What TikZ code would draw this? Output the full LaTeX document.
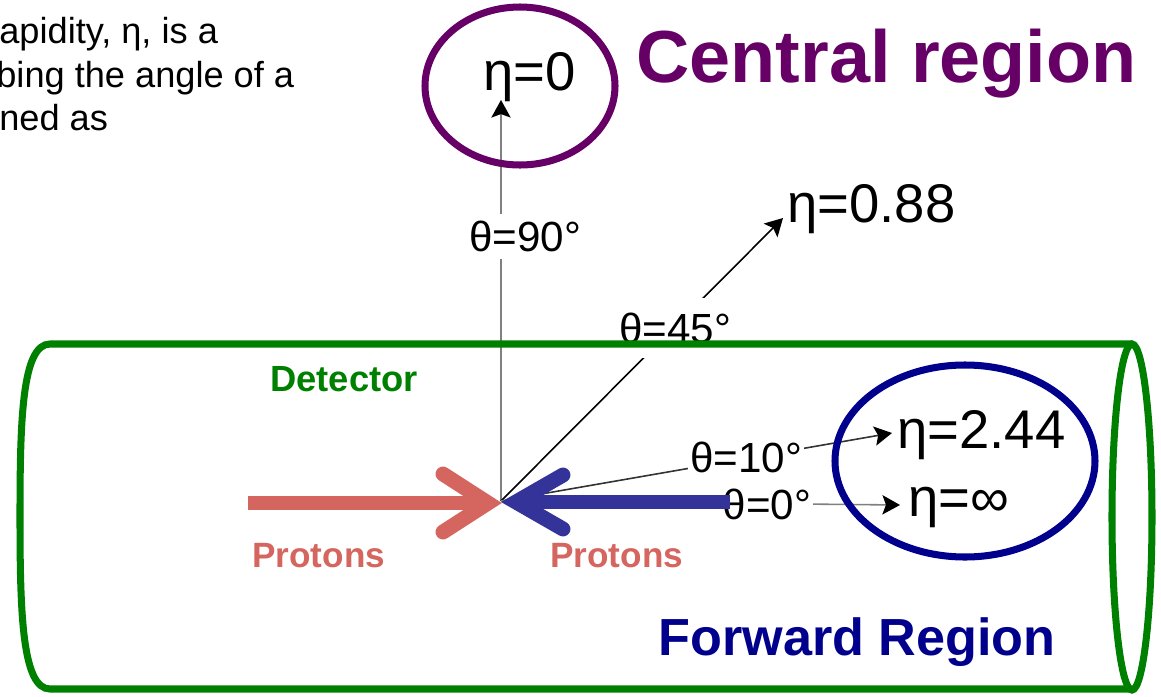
\documentclass[tikz,border=0pt]{standalone}
\usepackage{fontspec}
\setmainfont{Liberation Sans}
\usetikzlibrary{arrows.meta}
\definecolor{centralpurple}{RGB}{102,0,102}
\definecolor{detgreen}{RGB}{0,128,0}
\definecolor{fwdblue}{RGB}{0,0,140}
\definecolor{protonred}{RGB}{213,101,95}
\definecolor{protonblue}{RGB}{51,51,153}

\begin{document}
\begin{tikzpicture}[x=0.02cm,y=-0.02cm,
    introtext/.style={anchor=base west,inner sep=0pt,font=\fontsize{20.6}{24}\selectfont},
    etalabel/.style={anchor=base west,inner sep=0pt,font=\fontsize{31}{36}\selectfont},
    thetalabel/.style={fill=white,inner xsep=1pt,inner ysep=4pt,font=\fontsize{24}{28}\selectfont},
    ray/.style={-{Stealth[length=10pt,width=11pt,inset=2pt,color=black]},line width=0.9pt},
    beam/.style={line width=8.5pt,line cap=butt},
    chevron/.style={line width=8.5pt,line cap=round,line join=miter},
    region/.style={line width=4pt},
    tag/.style={anchor=base west,inner sep=0pt,font=\bfseries\fontsize{#1}{#1}\selectfont}]

  \useasboundingbox (0,0) rectangle (1161,697);

  % cut-off sentence at the top left
  \node[introtext] (intro1) at (-1,43) {apidity, η, is a};
  \node[introtext] (intro2) at (-4,87) {bing the angle of a};
  \node[introtext] (intro3) at (-1,130) {ned as};

  % pseudorapidity values
  \coordinate (o) at (501,501);
  \node[etalabel] (eta0) at (483,90) {η=0};
  \node[etalabel] (eta88) at (787,222) {η=0.88};
  \node[etalabel] (eta244) at (897,448) {η=2.44};
  \node[etalabel] (etainf) at (908,516) {η=∞};

  \draw[ray,gray] (o) -- ([shift={(18,10)}]eta0.base west);
  \draw[ray] (o) -- ([shift={(-4,-4)}]eta88.base west);
  \draw[ray,black!80] (o) -- ([shift={(-5,-15)}]eta244.base west);
  \draw[ray,gray] (o) -- ([shift={(-8,-11)}]etainf.base west);

  % polar angles
  \node[thetalabel] (t90) at (525,236) {θ=90°};
  \node[thetalabel,inner ysep=8pt] (t45) at (675,328) {θ=45°};
  \node[thetalabel] (t10) at (746,457) {θ=10°};
  \node[thetalabel] (t0) at (767,504) {θ=0°};

  % detector barrel
  \draw[region,detgreen] (1132,344) -- (50,344)
    .. controls (22,344) and (20,420) .. (20,516)
    .. controls (20,612) and (22,689) .. (50,689) -- (1132,689);
  \draw[region,detgreen] (1132,517) ellipse [x radius=20,y radius=173];

  % regions
  \draw[region,centralpurple] (520,86) ellipse [x radius=95,y radius=79];
  \draw[region,fwdblue] (965,461) ellipse [x radius=130,y radius=96];

  % colliding beams
  \coordinate (beamL) at (248,503);
  \coordinate (beamR) at (730,502);
  \draw[beam,protonred] (beamL) -- ([xshift=-13]o |- beamL);
  \draw[chevron,protonred] (443,474) -- (488,503) -- (443,532);
  \draw[beam,protonblue] (beamR) -- ([xshift=15]o |- beamR);
  \draw[chevron,protonblue] (563,475) -- (516,502) -- (563,529);

  \node[tag=20.7,text=detgreen] (detector) at (270,391) {Detector};
  \node[tag=20,text=protonred] (protonsL) at (252,567) {Protons};
  \node[tag=20,text=protonred] (protonsR) at (550,567) {Protons};
  \node[tag=42,text=centralpurple] (central) at (636,82) {Central region};
  \node[tag=29.7,text=fwdblue] (forward) at (658,655) {Forward Region};
\end{tikzpicture}
\end{document}
